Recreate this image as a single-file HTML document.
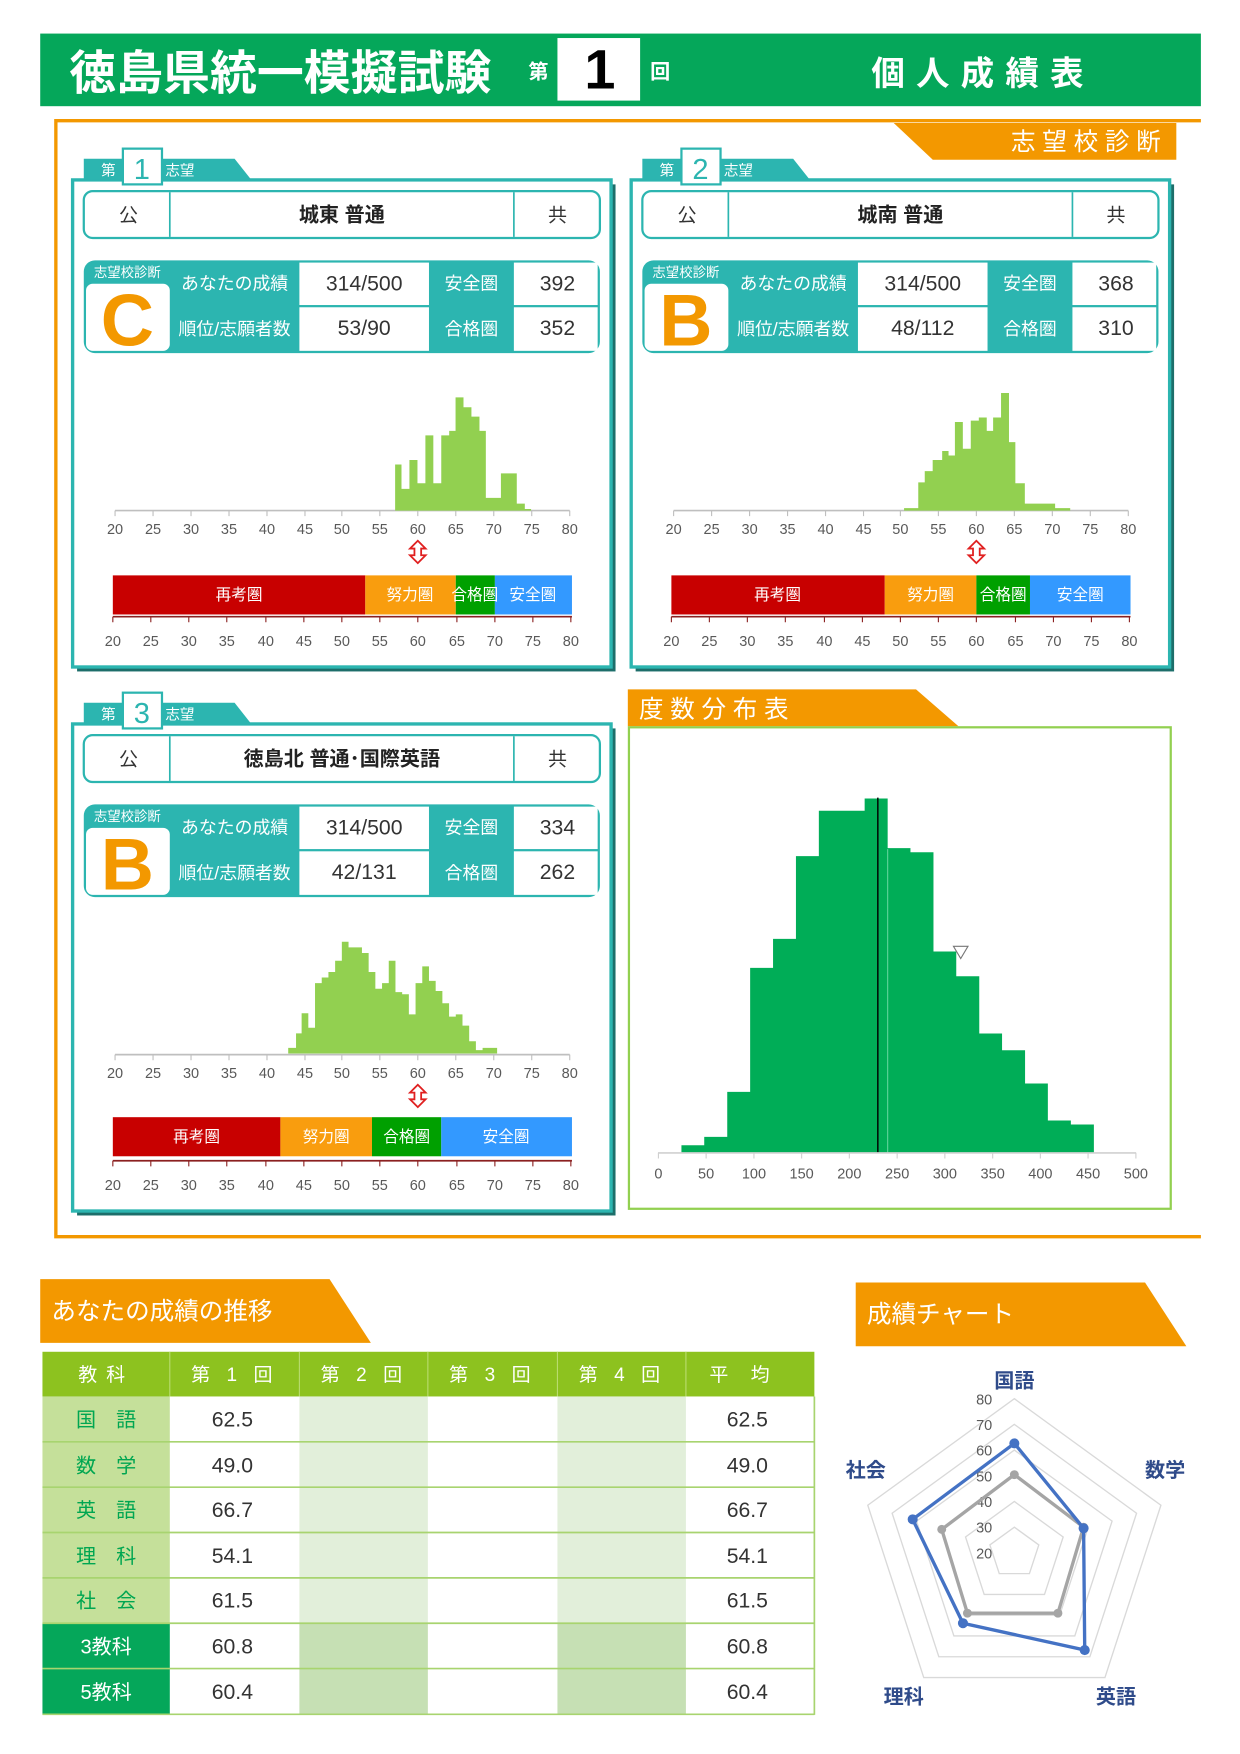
<!DOCTYPE html>
<html><head><meta charset="utf-8"><style>
html,body{margin:0;padding:0;background:#fff;}
svg{display:block;font-family:"Liberation Sans","Noto Sans CJK JP",sans-serif;}
</style></head><body>
<svg width="1240" height="1754" viewBox="0 0 1110 1570" xmlns="http://www.w3.org/2000/svg">
<defs>
<g id="panel">
  <rect x="69" y="165" width="482" height="436" fill="#1d6e6a"/>
  <rect x="65" y="161" width="482" height="436" fill="#fff" stroke="#2cb5b0" stroke-width="3"/>
  <polygon points="75,142 210,142 225,161 75,161" fill="#2cb5b0"/>
  <text x="97" y="157" font-size="13" fill="#fff" text-anchor="middle">第</text>
  <text x="161" y="157" font-size="13" fill="#fff" text-anchor="middle">志望</text>
  <rect x="75" y="171" width="462" height="42" rx="8" fill="#fff" stroke="#2cb5b0" stroke-width="2"/>
  <line x1="152" y1="172" x2="152" y2="212" stroke="#2cb5b0" stroke-width="1.5"/>
  <line x1="460" y1="172" x2="460" y2="212" stroke="#2cb5b0" stroke-width="1.5"/>
  <text x="115" y="198" font-size="17" fill="#333" text-anchor="middle">公</text>
  <text x="499" y="198" font-size="17" fill="#333" text-anchor="middle">共</text>
  <rect x="75" y="233" width="462" height="83" rx="10" fill="#2cb5b0"/>
  <rect x="77" y="254" width="75" height="60" rx="6" fill="#fff"/>
  <text x="114" y="248" font-size="12" fill="#fff" text-anchor="middle">志望校診断</text>
  <rect x="268" y="235" width="116" height="38" fill="#fff"/>
  <rect x="268" y="275" width="116" height="39" fill="#fff"/>
  <rect x="460" y="235" width="75" height="38" fill="#fff"/>
  <rect x="460" y="275" width="75" height="39" fill="#fff"/>
  <g font-size="16" fill="#fff" text-anchor="middle">
    <text x="210" y="259">あなたの成績</text>
    <text x="210" y="300">順位/志願者数</text>
    <text x="422" y="259">安全圏</text>
    <text x="422" y="300">合格圏</text>
  </g>
  <line x1="103" y1="457" x2="510" y2="457" stroke="#bfbfbf" stroke-width="1.5"/>
  <g stroke="#bfbfbf" stroke-width="1">
    <path d="M103 457v5M137 457v5M171 457v5M205 457v5M239 457v5M273 457v5M306 457v5M340 457v5M374 457v5M408 457v5M442 457v5M476 457v5M510 457v5"/>
  </g>
  <g font-size="13" fill="#595959" text-anchor="middle">
    <text x="103" y="478">20</text><text x="137" y="478">25</text><text x="171" y="478">30</text><text x="205" y="478">35</text><text x="239" y="478">40</text><text x="273" y="478">45</text><text x="306" y="478">50</text><text x="340" y="478">55</text><text x="374" y="478">60</text><text x="408" y="478">65</text><text x="442" y="478">70</text><text x="476" y="478">75</text><text x="510" y="478">80</text>
  </g>
  <polygon points="374,484 381,491 377,491 377,497 381,497 374,504 367,497 371,497 371,491 367,491" fill="#fff" stroke="#e02020" stroke-width="1.6"/>
  <line x1="101" y1="552" x2="512" y2="552" stroke="#8b2020" stroke-width="1.5"/>
  <path d="M101 552v5M135 552v5M169 552v5M203 552v5M238 552v5M272 552v5M306 552v5M340 552v5M374 552v5M409 552v5M443 552v5M477 552v5M511 552v5" stroke="#8b2020" stroke-width="1"/>
  <g font-size="13" fill="#595959" text-anchor="middle">
    <text x="101" y="578">20</text><text x="135" y="578">25</text><text x="169" y="578">30</text><text x="203" y="578">35</text><text x="238" y="578">40</text><text x="272" y="578">45</text><text x="306" y="578">50</text><text x="340" y="578">55</text><text x="374" y="578">60</text><text x="409" y="578">65</text><text x="443" y="578">70</text><text x="477" y="578">75</text><text x="511" y="578">80</text>
  </g>
</g>
</defs>

<!-- Header -->
<rect x="36" y="30" width="1039" height="65" fill="#05a75a"/>
<text x="62" y="80" font-size="42" font-weight="bold" fill="#fff">徳島県統一模擬試験</text>
<text x="482" y="70" font-size="18" font-weight="bold" fill="#fff" text-anchor="middle">第</text>
<rect x="499" y="34" width="74" height="56" fill="#fff"/>
<text x="537" y="79" font-size="50" font-weight="bold" fill="#000" text-anchor="middle">1</text>
<text x="591" y="70" font-size="18" font-weight="bold" fill="#fff" text-anchor="middle">回</text>
<text x="780" y="76" font-size="30" font-weight="bold" fill="#fff" letter-spacing="10">個人成績表</text>

<!-- Orange frame -->
<path d="M1075 108H50V1107H1075" fill="none" stroke="#f39800" stroke-width="3"/>
<polygon points="800,110 1053,110 1053,143 835,143" fill="#f39800"/>
<text x="1045" y="134" font-size="22" fill="#fff" text-anchor="end" letter-spacing="6">志望校診断</text>

<!-- Panel 1 -->
<use href="#panel"/>
<rect x="110" y="133" width="35" height="32" fill="#fff" stroke="#2cb5b0" stroke-width="2"/>
<text x="127" y="160" font-size="26" fill="#2cb5b0" text-anchor="middle">1</text>
<text x="306" y="198" font-size="18" font-weight="bold" fill="#222" text-anchor="middle">城東 普通</text>
<text x="114" y="309" font-size="66" font-weight="bold" fill="#f39800" text-anchor="middle">C</text>
<g font-size="19" fill="#333" text-anchor="middle">
<text x="326" y="260">314/500</text><text x="326" y="300">53/90</text><text x="499" y="260">392</text><text x="499" y="300">352</text></g>
<path fill="#92d050" d="M353.7 457V415.7H359.4V437.6H366.5V411.7H373.7V432.5H380.8V389.7H387.9V432.5H395V389.7H402.1V385.7H407.8V355.7H414.9V364.5H422V372.9H429.2V385.7H434.9V445.6H448.4V423.7H462.6V450.8H469.8V455.6H475.4V457Z"/>
<rect x="101" y="515" width="226" height="35" fill="#c80000"/>
<rect x="327" y="515" width="81" height="35" fill="#f99d0e"/>
<rect x="408" y="515" width="35" height="35" fill="#00a000"/>
<rect x="443" y="515" width="69" height="35" fill="#3399ff"/>
<g font-size="14" fill="#fff" text-anchor="middle"><text x="214" y="537">再考圏</text><text x="367" y="537">努力圏</text><text x="425" y="537">合格圏</text><text x="477" y="537">安全圏</text></g>

<!-- Panel 2 -->
<use href="#panel" transform="translate(500,0)"/>
<rect x="610" y="133" width="35" height="32" fill="#fff" stroke="#2cb5b0" stroke-width="2"/>
<text x="627" y="160" font-size="26" fill="#2cb5b0" text-anchor="middle">2</text>
<text x="806" y="198" font-size="18" font-weight="bold" fill="#222" text-anchor="middle">城南 普通</text>
<text x="614" y="309" font-size="66" font-weight="bold" fill="#f39800" text-anchor="middle">B</text>
<g font-size="19" fill="#333" text-anchor="middle">
<text x="826" y="260">314/500</text><text x="826" y="300">48/112</text><text x="999" y="260">368</text><text x="999" y="300">310</text></g>
<path fill="#92d050" d="M809.3 457V454.8H822V431.7H827.8V421.7H834.9V411.7H843.4V403.7H849.1V407.7H854.8V377.7H861.9V401.7H869V376.5H876.2V373.7H883.3V385.7H889V373.7H896.1V351.7H903.2V395.7H908.9V432.5H917.4V450.8H944.5V454.8H958V457Z"/>
<rect x="601" y="515" width="191" height="35" fill="#c80000"/>
<rect x="792" y="515" width="82" height="35" fill="#f99d0e"/>
<rect x="874" y="515" width="48" height="35" fill="#00a000"/>
<rect x="922" y="515" width="90" height="35" fill="#3399ff"/>
<g font-size="14" fill="#fff" text-anchor="middle"><text x="696" y="537">再考圏</text><text x="833" y="537">努力圏</text><text x="898" y="537">合格圏</text><text x="967" y="537">安全圏</text></g>

<!-- Panel 3 -->
<use href="#panel" transform="translate(0,487)"/>
<rect x="110" y="620" width="35" height="32" fill="#fff" stroke="#2cb5b0" stroke-width="2"/>
<text x="127" y="647" font-size="26" fill="#2cb5b0" text-anchor="middle">3</text>
<text x="306" y="685" font-size="18" font-weight="bold" fill="#222" text-anchor="middle">徳島北 普通･国際英語</text>
<text x="114" y="796" font-size="66" font-weight="bold" fill="#f39800" text-anchor="middle">B</text>
<g font-size="19" fill="#333" text-anchor="middle">
<text x="326" y="747">314/500</text><text x="326" y="787">42/131</text><text x="499" y="747">334</text><text x="499" y="787">262</text></g>
<path fill="#92d050" d="M258 943V938H265V925H270V907H276V920H282V880H288V875H294V870H300V860H306V843H312V848H324V853H330V870H336V885H342V880H348V860H354V888H360V890H366V908H372V880H378V865H384V878H390V887H396V898H402V910H408V908H414V918H420V932H426V940H432V938H445V943Z"/>
<rect x="101" y="1000" width="150" height="35" fill="#c80000"/>
<rect x="251" y="1000" width="82" height="35" fill="#f99d0e"/>
<rect x="333" y="1000" width="62" height="35" fill="#00a000"/>
<rect x="395" y="1000" width="117" height="35" fill="#3399ff"/>
<g font-size="14" fill="#fff" text-anchor="middle"><text x="176" y="1022">再考圏</text><text x="292" y="1022">努力圏</text><text x="364" y="1022">合格圏</text><text x="453" y="1022">安全圏</text></g>

<!-- Frequency distribution -->
<polygon points="562,617 820,617 858,650 562,650" fill="#f39800"/>
<text x="572" y="642" font-size="22" fill="#fff" letter-spacing="6">度数分布表</text>
<rect x="563" y="651" width="485" height="431" fill="#fff" stroke="#92d050" stroke-width="2"/>
<path fill="#00ad57" d="M610 1032V1025.1H630.4V1017.6H651V977.4H671.5V866.3H692V840.4H712.5V766.3H733V725.7H774V714.7H794.6V759.2H815V762.8H835.6V851.7H856V873.8H876.6V925.1H897V940.1H917.6V969.9H938V1003H958.6V1006.6H979.2V1032Z"/>
<line x1="794.6" y1="760" x2="794.6" y2="1032" stroke="#5fd39a" stroke-width="1"/>
<line x1="785.8" y1="714" x2="785.8" y2="1032" stroke="#000" stroke-width="1.3"/>
<line x1="589" y1="1032" x2="1017" y2="1032" stroke="#d0d0d0" stroke-width="1.5"/>
<path d="M589.4 1032v5M632.1 1032v5M674.9 1032v5M717.6 1032v5M760.3 1032v5M803.1 1032v5M845.8 1032v5M888.6 1032v5M931.3 1032v5M974 1032v5M1016.8 1032v5" stroke="#d0d0d0"/>
<g font-size="13" fill="#595959" text-anchor="middle">
<text x="589.4" y="1055">0</text><text x="632.1" y="1055">50</text><text x="674.9" y="1055">100</text><text x="717.6" y="1055">150</text><text x="760.3" y="1055">200</text><text x="803.1" y="1055">250</text><text x="845.8" y="1055">300</text><text x="888.6" y="1055">350</text><text x="931.3" y="1055">400</text><text x="974" y="1055">450</text><text x="1016.8" y="1055">500</text></g>
<polygon points="853.5,847 866.5,847 860,858" fill="#fff" stroke="#777" stroke-width="1"/>

<!-- Score trend -->
<polygon points="36,1145 295,1145 332,1202 36,1202" fill="#f39800"/>
<text x="46" y="1181" font-size="22" fill="#fff">あなたの成績の推移</text>
<rect x="38" y="1210" width="691" height="40" fill="#8dc21f"/>
<rect x="38" y="1250" width="114" height="203" fill="#c5e09a"/>
<rect x="38" y="1453" width="114" height="82" fill="#05a75a"/>
<rect x="268" y="1250" width="115" height="203" fill="#e2efda"/>
<rect x="499" y="1250" width="115" height="203" fill="#e2efda"/>
<rect x="268" y="1453" width="115" height="82" fill="#c6e0b4"/>
<rect x="499" y="1453" width="115" height="82" fill="#c6e0b4"/>
<g stroke="#a8d46f" stroke-width="1.5">
<path d="M38 1290.6H729M38 1331.2H729M38 1371.8H729M38 1412.4H729M38 1453H729M38 1493.6H729M38 1534.5H729M729 1250V1535"/>
</g>
<path d="M152 1210V1250M268 1210V1250M383 1210V1250M499 1210V1250M614 1210V1250" stroke="#b9dc6e" stroke-width="1"/>
<g font-size="17" fill="#fff" text-anchor="middle">
<text x="95" y="1236" letter-spacing="8">教科</text><text x="210" y="1236" letter-spacing="5">第 1 回</text><text x="326" y="1236" letter-spacing="5">第 2 回</text><text x="441" y="1236" letter-spacing="5">第 3 回</text><text x="557" y="1236" letter-spacing="5">第 4 回</text><text x="672" y="1236" letter-spacing="20">平均</text></g>
<g font-size="18" fill="#00a651" text-anchor="middle" letter-spacing="18">
<text x="104" y="1277">国語</text><text x="104" y="1318">数学</text><text x="104" y="1358">英語</text><text x="104" y="1399">理科</text><text x="104" y="1439">社会</text></g>
<g font-size="18" fill="#fff" text-anchor="middle"><text x="95" y="1480">3教科</text><text x="95" y="1521">5教科</text></g>
<g font-size="19" fill="#333" text-anchor="middle">
<text x="208" y="1277">62.5</text><text x="208" y="1318">49.0</text><text x="208" y="1358">66.7</text><text x="208" y="1399">54.1</text><text x="208" y="1439">61.5</text><text x="208" y="1480">60.8</text><text x="208" y="1521">60.4</text>
<text x="669" y="1277">62.5</text><text x="669" y="1318">49.0</text><text x="669" y="1358">66.7</text><text x="669" y="1399">54.1</text><text x="669" y="1439">61.5</text><text x="669" y="1480">60.8</text><text x="669" y="1521">60.4</text></g>

<!-- Radar chart -->
<polygon points="766,1148 1025,1148 1062,1205 766,1205" fill="#f39800"/>
<text x="776" y="1184" font-size="22" fill="#fff">成績チャート</text>
<g fill="none" stroke="#d9d9d9" stroke-width="1.2">
<polygon points="908,1367 929.9,1382.9 921.5,1408.6 894.5,1408.6 886.1,1382.9"/>
<polygon points="908,1344 951.7,1375.8 935,1427.2 881,1427.2 864.3,1375.8"/>
<polygon points="908,1321 973.6,1368.7 948.6,1445.8 867.4,1445.8 842.4,1368.7"/>
<polygon points="908,1298 995.5,1361.6 962.1,1464.4 853.9,1464.4 820.5,1361.6"/>
<polygon points="908,1275 1017.4,1354.5 975.6,1483 840.4,1483 798.6,1354.5"/>
<polygon points="908,1252 1039.2,1347.4 989.1,1501.6 826.9,1501.6 776.8,1347.4"/>
</g>
<g font-size="13" fill="#595959" text-anchor="middle">
<text x="881" y="1257">80</text><text x="881" y="1280">70</text><text x="881" y="1303">60</text><text x="881" y="1326">50</text><text x="881" y="1349">40</text><text x="881" y="1372">30</text><text x="881" y="1395">20</text></g>
<polygon points="908,1320 970,1367 947,1444 866,1444 843,1369" fill="none" stroke="#a5a5a5" stroke-width="3"/>
<g fill="#a5a5a5"><circle cx="908" cy="1320" r="4"/><circle cx="970" cy="1367" r="4"/><circle cx="947" cy="1444" r="4"/><circle cx="866" cy="1444" r="4"/><circle cx="843" cy="1369" r="4"/></g>
<polygon points="908,1292 970,1368 971,1477 862,1453 817,1360" fill="none" stroke="#4472c4" stroke-width="3"/>
<g fill="#4472c4"><circle cx="908" cy="1292" r="4.5"/><circle cx="970" cy="1368" r="4.5"/><circle cx="971" cy="1477" r="4.5"/><circle cx="862" cy="1453" r="4.5"/><circle cx="817" cy="1360" r="4.5"/></g>
<g font-size="18" font-weight="bold" fill="#2f4b8a" text-anchor="middle">
<text x="908" y="1242">国語</text><text x="1043" y="1322">数学</text><text x="999" y="1525">英語</text><text x="809" y="1525">理科</text><text x="775" y="1322">社会</text></g>
</svg>
</body></html>
